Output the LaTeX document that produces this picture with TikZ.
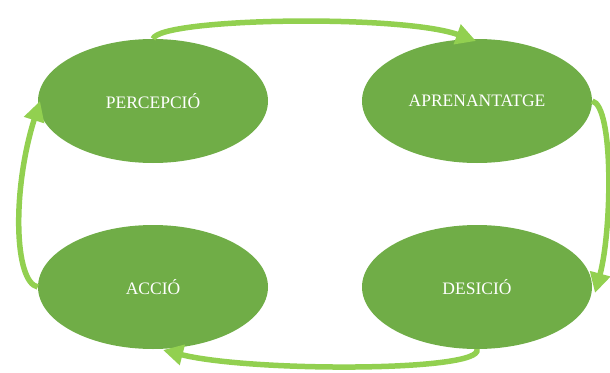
\documentclass[tikz,border=0pt]{standalone}
\usepackage{fontspec}
\setmainfont{Liberation Serif}
\usetikzlibrary{shapes.geometric,arrows.meta}
\definecolor{verdfosc}{HTML}{70AD47}
\definecolor{verdclar}{HTML}{92D050}
\tikzset{
  etapa/.style={ellipse,fill=verdfosc,text=white,minimum width=230,minimum height=124,inner sep=0pt,font=\fontsize{17.5}{20}\selectfont},
  fletxa/.style={line width=5.5pt,draw=verdclar,-{Triangle[length=20pt,width=20pt,fill=verdclar]}}
}
\begin{document}
\begin{tikzpicture}[x=1pt,y=-1pt] % cicle percepció - acció

\useasboundingbox (0,0) rectangle (610,372);

\node[etapa] (per) at (153,101) {PERCEPCIÓ};
\node[etapa] (apr) at (477,101) {APRENANTATGE};
\node[etapa] (dec) at (477,287) {DESICIÓ};
\node[etapa] (acc) at (153,287) {ACCIÓ};

% fletxes del cicle
\draw[fletxa] (per.north) .. controls (160,18) and (400,14) .. (476,41);
\draw[fletxa] (apr.east) .. controls (614,106) and (612,230) .. (595,293);
\draw[fletxa] (dec.south) .. controls (484,372) and (250,372) .. (163,350);
\draw[fletxa] (acc.west) .. controls (14,282) and (12,190) .. (40,101);

\end{tikzpicture}
\end{document}
